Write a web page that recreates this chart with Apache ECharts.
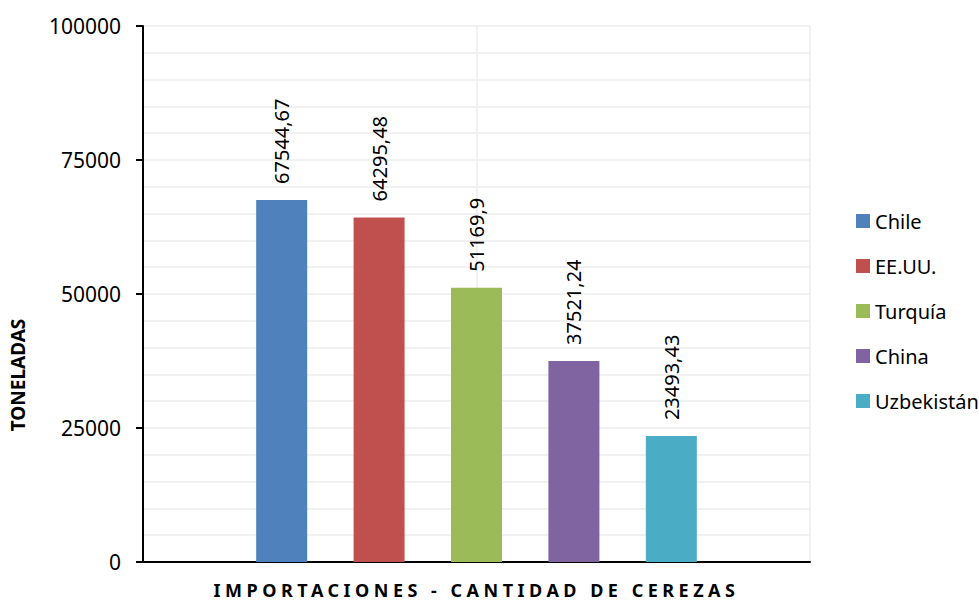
<!DOCTYPE html>
<html>
<head>
<meta charset="utf-8">
<title>Importaciones - cantidad de cerezas</title>
<script src="https://cdn.jsdelivr.net/npm/echarts@6/dist/echarts.min.js"></script>
<style>
  html, body { margin: 0; padding: 0; background: #fff; }
  #chart { width: 979px; height: 601px; }
</style>
</head>
<body>
<div id="chart"></div>
<script>
// data
const categories = ['IMPORTACIONES - CANTIDAD DE CEREZAS']
const countries = ['Chile', 'EE.UU.', 'Turquía', 'China', 'Uzbekistán']
const tonnes = [67544.67, 64295.48, 51169.9, 37521.24, 23493.43]
const labels = ['67544,67', '64295,48', '51169,9', '37521,24', '23493,43']
const colors = ['#4F81BD', '#C0504D', '#9BBB59', '#8064A2', '#4BACC6']
const yTicks = [0, 25000, 50000, 75000, 100000]

const font = '"Noto Sans", "Open Sans", sans-serif'

const chart = echarts.init(document.getElementById('chart'), null, { renderer: 'svg' })

const series = countries.map((name, i) => ({
  name: name,
  type: 'bar',
  barWidth: 51,
  barGap: '91%',
  itemStyle: { color: colors[i] },
  label: {
    show: true,
    position: 'top',
    rotate: 90,
    align: 'left',
    verticalAlign: 'middle',
    distance: 16,
    color: '#000',
    fontFamily: font,
    fontSize: 20,
    formatter: () => labels[i]
  },
  data: [tonnes[i]]
}))

chart.setOption({
  animation: false,
  textStyle: { fontFamily: font },
  grid: {
    top: 26,
    left: 143,
    right: 169,
    bottom: 39
  },
  legend: {
    orient: 'vertical',
    left: 851,
    top: 205,
    icon: 'rect',
    itemWidth: 14,
    itemHeight: 14,
    itemGap: 23,
    textStyle: { fontSize: 20, lineHeight: 22, color: '#000', fontFamily: font },
    data: countries
  },
  graphic: [{
    type: 'text',
    x: 18,
    y: 375,
    rotation: Math.PI / 2,
    style: {
      text: 'TONELADAS',
      font: 'bold 19px ' + font,
      fill: '#000',
      align: 'center',
      verticalAlign: 'middle'
    }
  }],
  xAxis: [{
    type: 'category',
    data: categories,
    axisLine: { lineStyle: { color: '#000', width: 2 } },
    axisTick: { show: false },
    splitLine: { show: false },
    axisLabel: {
      margin: 19,
      color: '#000',
      fontWeight: 'bold',
      fontSize: 18,
      fontFamily: font
    }
  }, {
    // only used for the vertical grid lines
    type: 'value',
    position: 'top',
    min: 0,
    max: 2,
    interval: 1,
    axisLine: { show: false },
    axisTick: { show: false },
    axisLabel: { show: false },
    splitLine: { show: true, lineStyle: { color: '#ececec', width: 1.5 } }
  }],
  yAxis: {
    type: 'value',
    min: yTicks[0],
    max: yTicks[yTicks.length - 1],
    interval: 25000,
    minorTick: { show: false, splitNumber: 5 },
    minorSplitLine: { show: true, lineStyle: { color: '#ececec', width: 1.5 } },
    splitLine: { show: true, lineStyle: { color: '#ececec', width: 1.5 } },
    axisLine: { show: true, lineStyle: { color: '#000', width: 2 } },
    axisTick: { show: true, length: 7, lineStyle: { color: '#000', width: 2 } },
    axisLabel: {
      margin: 22,
      color: '#000',
      fontSize: 21,
      fontFamily: font,
      formatter: v => String(v)
    }
  },
  series: series
})

// spread the letters of the category title like the original
document.querySelectorAll('#chart text').forEach(t => {
  if (t.textContent === categories[0]) {
    t.style.letterSpacing = '4.5px'
  }
})
</script>
</body>
</html>
